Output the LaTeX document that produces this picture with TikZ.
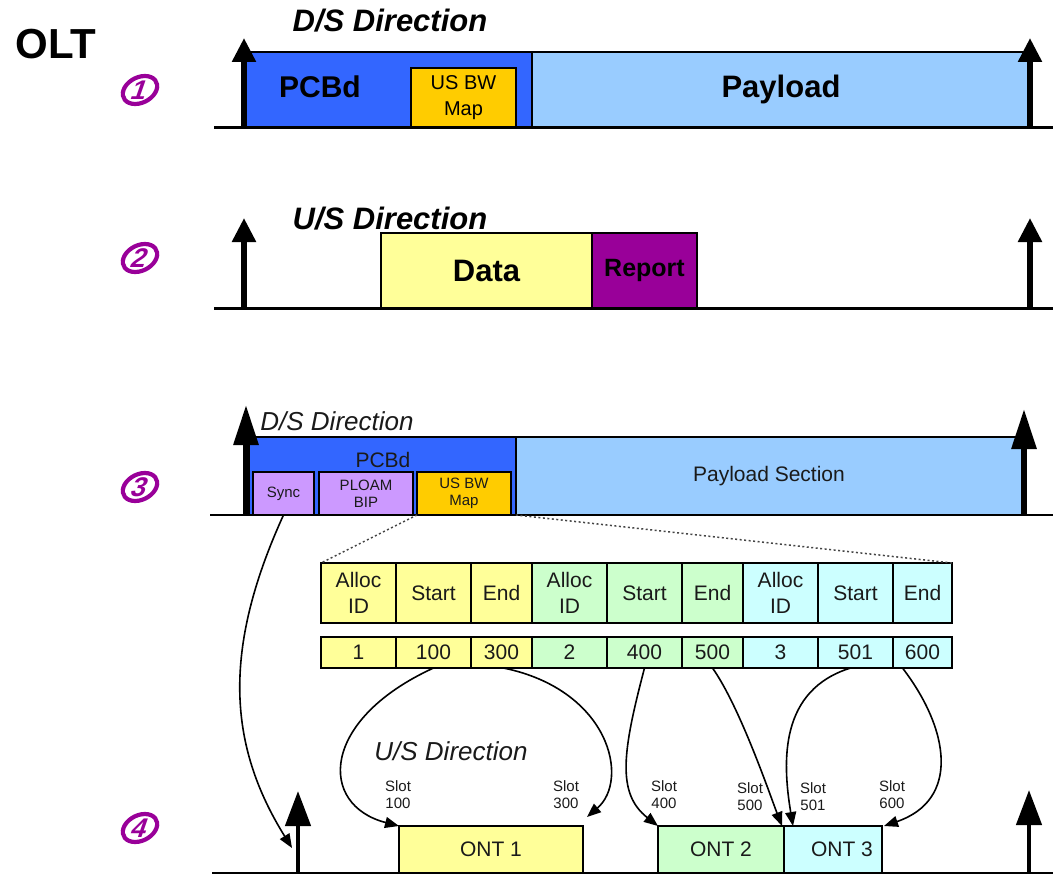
\documentclass[tikz,border=0pt]{standalone}
\usepackage{fontspec}
\setmainfont{Liberation Sans}
\usetikzlibrary{arrows.meta,shapes.geometric}
\definecolor{pcb}{HTML}{3366FF}
\definecolor{pay}{HTML}{99CCFF}
\definecolor{bwmap}{HTML}{FFCC00}
\definecolor{ylw}{HTML}{FFFF99}
\definecolor{grn}{HTML}{CCFFCC}
\definecolor{cyn}{HTML}{CCFFFF}
\definecolor{rep}{HTML}{990099}
\definecolor{lav}{HTML}{CC99FF}
\definecolor{nump}{HTML}{990099}
\definecolor{ink}{HTML}{1A1A1A}
\definecolor{dotc}{HTML}{444444}
\newcommand{\myfs}[2]{\fontsize{#1pt}{#2pt}\selectfont}
\begin{document}
\begin{tikzpicture}[x=1pt,y=-1pt,
  every node/.style={inner sep=0pt, outer sep=0pt},
  bx/.style={draw=black, anchor=north west, inner sep=0pt, align=center},
  thickbx/.style={bx, line width=2.5pt},
  thinbx/.style={bx, line width=1.3pt, text=ink},
  cell/.style={bx, line width=1.5pt, font=\myfs{21}{26}, text=ink},
  basel/.style={line width=3pt},
  tbasel/.style={line width=1.3pt},
  bigarrA/.style={line width=5.5pt, -{Triangle[length=24pt,width=23pt]}},
  bigarrB/.style={line width=6pt, -{Triangle[length=40pt,width=24pt]}},
  bigarrC/.style={line width=4.5pt, -{Triangle[length=35pt,width=25pt]}},
  conn/.style={line width=1.6pt, -{Triangle[length=14pt,width=11pt]}},
  dotl/.style={line width=1.5pt, dash pattern=on 2pt off 2.5pt, draw=dotc},
  ring/.style={draw=nump, line width=4.2pt},
  digit/.style={text=nump, font=\bfseries\myfs{27}{27}, transform shape},
  ttlbold/.style={anchor=base, font=\bfseries\itshape\myfs{31}{31}},
  ttlreg/.style={anchor=base, font=\itshape\myfs{26}{26}, text=ink},
  slot/.style={align=center, font=\myfs{15}{17}, text=ink}
]
\path[use as bounding box] (0,0) rectangle (1053,875);

% ---------- labels and numbers ----------
\node[font=\bfseries\myfs{42}{42}] (olt) at (56,44) {OLT};
\begin{scope}[shift={(140,90)}, xslant=0.35]
  \draw[ring] (0,0) ellipse (16.5 and 14);
  \node[digit] (n1) at (0,0) {1};
\end{scope}
\begin{scope}[shift={(140,258)}, xslant=0.35]
  \draw[ring] (0,0) ellipse (16.5 and 14);
  \node[digit] (n2) at (0,0) {2};
\end{scope}
\begin{scope}[shift={(140,487)}, xslant=0.35]
  \draw[ring] (0,0) ellipse (16.5 and 14);
  \node[digit] (n3) at (0,0) {3};
\end{scope}
\begin{scope}[shift={(140,828)}, xslant=0.35]
  \draw[ring] (0,0) ellipse (16.5 and 14);
  \node[digit] (n4) at (0,0) {4};
\end{scope}

% ---------- section 1 ----------
\node[ttlbold] (t1) at (390,32) {D/S Direction};
\node[thickbx, fill=pcb, minimum width=288pt, minimum height=75pt] (pcbd1) at (244,52) {};
\node[anchor=base, font=\bfseries\myfs{30}{30}] (pcbd1t) at (320,97) {PCBd};
\node[thickbx, fill=pay, minimum width=498pt, minimum height=75pt, font=\bfseries\myfs{31}{31}] (pay1) at (532,52) {\raisebox{-5pt}{Payload}};
\node[bx, line width=2pt, fill=bwmap, minimum width=105pt, minimum height=59pt, font=\myfs{20}{26}] (bw1) at (411,68) {US BW\\Map};
\coordinate (b1l) at (214,127);
\coordinate (b1r) at (1053,127);
\draw[basel] (b1l) -- (b1r);
\coordinate (a1lb) at (244,127); \coordinate (a1lt) at (244,38);
\coordinate (a1rb) at (1030,127); \coordinate (a1rt) at (1030,38);
\draw[bigarrA] (a1lb) -- (a1lt);
\draw[bigarrA] (a1rb) -- (a1rt);

% ---------- section 2 ----------
\node[ttlbold] (t2) at (390,229) {U/S Direction};
\node[thickbx, fill=ylw, minimum width=211pt, minimum height=75pt, font=\bfseries\myfs{31}{31}] (data) at (381,233) {\raisebox{-2pt}{Data}};
\node[thickbx, fill=rep, minimum width=105pt, minimum height=75pt, font=\bfseries\myfs{25}{25}] (report) at (592,233) {Report};
\coordinate (b2l) at (214,308);
\coordinate (b2r) at (1053,308);
\draw[basel] (b2l) -- (b2r);
\coordinate (a2lb) at (244,308); \coordinate (a2lt) at (244,218);
\coordinate (a2rb) at (1030,308); \coordinate (a2rt) at (1030,218);
\draw[bigarrA] (a2lb) -- (a2lt);
\draw[bigarrA] (a2rb) -- (a2rt);

% ---------- section 3 ----------
\node[ttlreg] (t3) at (337,430) {D/S Direction};
\node[thinbx, fill=pcb, minimum width=267pt, minimum height=78pt] (pcbd3) at (249,437) {};
\node[anchor=base, font=\myfs{21}{21}, text=ink] (pcbd3t) at (383,467) {PCBd};
\node[thinbx, fill=lav, minimum width=61pt, minimum height=43pt, font=\myfs{15}{17}] (sync) at (253,472) {Sync};
\node[thinbx, fill=lav, minimum width=94pt, minimum height=43pt, font=\myfs{15}{17}] (ploam) at (319,472) {PLOAM\\BIP};
\node[thinbx, fill=bwmap, minimum width=94pt, minimum height=43pt, font=\myfs{15}{17}] (bw3) at (417,472) {US BW\\Map};
\node[thinbx, fill=pay, minimum width=506pt, minimum height=78pt, font=\myfs{21}{21}] (pay3) at (516,437) {Payload Section};
\coordinate (b3l) at (210,515);
\coordinate (b3r) at (1053,515);
\draw[tbasel] (b3l) -- (b3r);
\coordinate (a3lb) at (246,515); \coordinate (a3lt) at (246,405);
\coordinate (a3rb) at (1024,515); \coordinate (a3rt) at (1024,409);
\draw[bigarrB] (a3lb) -- (a3lt);
\draw[bigarrB] (a3rb) -- (a3rt);

% ---------- table ----------
\node[cell, fill=ylw, minimum width=75pt, minimum height=60pt] (h1) at (321,563) {Alloc\\ID};
\node[cell, fill=ylw, minimum width=75pt, minimum height=60pt] (h2) at (396,563) {Start};
\node[cell, fill=ylw, minimum width=61pt, minimum height=60pt] (h3) at (471,563) {End};
\node[cell, fill=grn, minimum width=75pt, minimum height=60pt] (h4) at (532,563) {Alloc\\ID};
\node[cell, fill=grn, minimum width=75pt, minimum height=60pt] (h5) at (607,563) {Start};
\node[cell, fill=grn, minimum width=61pt, minimum height=60pt] (h6) at (682,563) {End};
\node[cell, fill=cyn, minimum width=75pt, minimum height=60pt] (h7) at (743,563) {Alloc\\ID};
\node[cell, fill=cyn, minimum width=75pt, minimum height=60pt] (h8) at (818,563) {Start};
\node[cell, fill=cyn, minimum width=59pt, minimum height=60pt] (h9) at (893,563) {End};
\node[cell, fill=ylw, minimum width=75pt, minimum height=31pt] (v1) at (321,637) {1};
\node[cell, fill=ylw, minimum width=75pt, minimum height=31pt] (v2) at (396,637) {100};
\node[cell, fill=ylw, minimum width=61pt, minimum height=31pt] (v3) at (471,637) {300};
\node[cell, fill=grn, minimum width=75pt, minimum height=31pt] (v4) at (532,637) {2};
\node[cell, fill=grn, minimum width=75pt, minimum height=31pt] (v5) at (607,637) {400};
\node[cell, fill=grn, minimum width=61pt, minimum height=31pt] (v6) at (682,637) {500};
\node[cell, fill=cyn, minimum width=75pt, minimum height=31pt] (v7) at (743,637) {3};
\node[cell, fill=cyn, minimum width=75pt, minimum height=31pt] (v8) at (818,637) {501};
\node[cell, fill=cyn, minimum width=59pt, minimum height=31pt] (v9) at (893,637) {600};

\draw[dotl] (bw3.south west) -- (h1.north west);
\draw[dotl] (pcbd3.south east) -- (h9.north east);

% ---------- section 4 ----------
\node[ttlreg] (t4) at (451,760) {U/S Direction};
\node[thinbx, fill=ylw, minimum width=184pt, minimum height=47pt, font=\myfs{21}{21}] (ont1) at (399,826) {ONT 1};
\node[thinbx, fill=grn, minimum width=126pt, minimum height=47pt, font=\myfs{21}{21}] (ont2) at (658,826) {ONT 2};
\node[thinbx, fill=cyn, minimum width=98pt, minimum height=47pt, font=\myfs{21}{21}] (ont3) at (784,826) {\hspace*{18pt}ONT 3};
\node[slot] (s100) at (398,795) {Slot\\100};
\node[slot] (s300) at (566,795) {Slot\\300};
\node[slot] (s400) at (664,795) {Slot\\400};
\node[slot] (s500) at (750,797) {Slot\\500};
\node[slot] (s501) at (813,797) {Slot\\501};
\node[slot] (s600) at (892,795) {Slot\\600};
\coordinate (b4l) at (212,873);
\coordinate (b4r) at (1053,873);
\draw[tbasel] (b4l) -- (b4r);
\coordinate (a4lb) at (298,873); \coordinate (a4lt) at (298,791);
\coordinate (a4rb) at (1029,873); \coordinate (a4rt) at (1029,790);
\draw[bigarrC] (a4lb) -- (a4lt);
\draw[bigarrC] (a4rb) -- (a4rt);

% ---------- connectors ----------
\coordinate (synctip) at (292,848);
\draw[conn] (sync.south) .. controls (222,650) and (228,745) .. (synctip);
\draw[conn] (v2.south) .. controls (320,720) and (318,805) .. (ont1.north west);
\draw[conn] ([xshift=2pt]v3.south) .. controls (610,690) and (630,780) .. ([xshift=4pt,yshift=9pt]ont1.north east);
\draw[conn] (v5.south) .. controls (623,750) and (616,793) .. (ont2.north west);
\draw[conn] (v6.south) .. controls (740,707) and (770,795) .. ([xshift=-2pt]ont2.north east);
\draw[conn] ([xshift=-5pt]v8.south) .. controls (780,690) and (782,760) .. ([xshift=9pt]ont3.north west);
\draw[conn] ([xshift=-20pt]v9.south) .. controls (950,730) and (960,800) .. ([xshift=2pt]ont3.north east);
\end{tikzpicture}
\end{document}
